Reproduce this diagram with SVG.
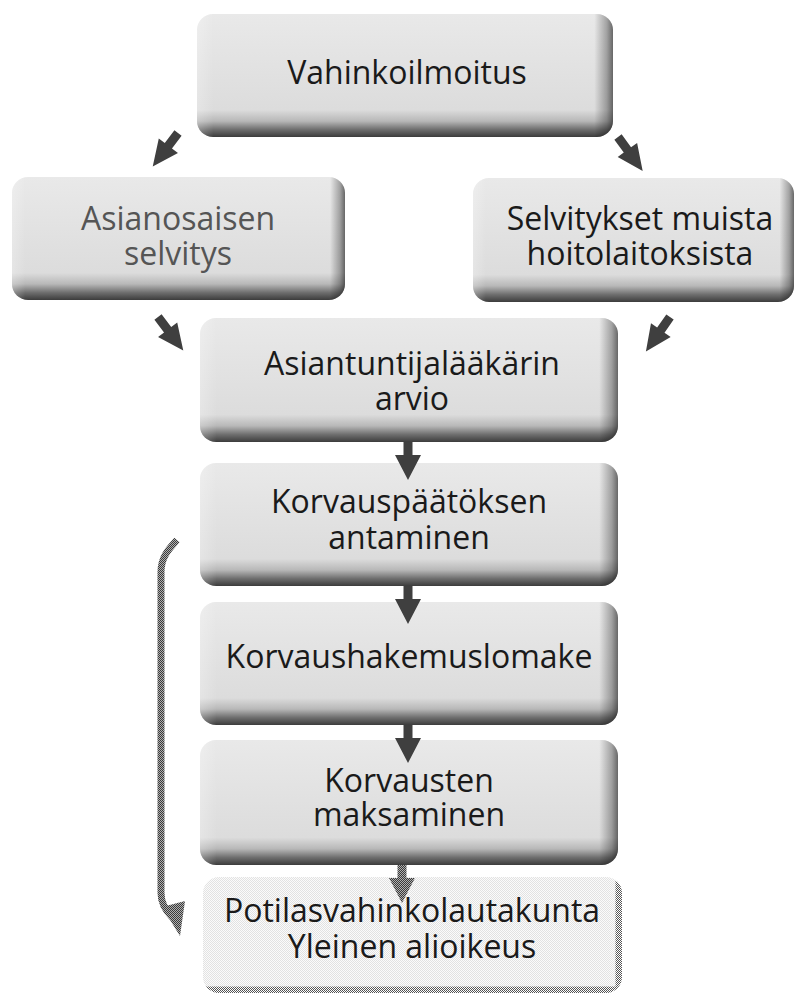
<svg xmlns="http://www.w3.org/2000/svg" width="795" height="996" viewBox="0 0 795 996">
<defs>
<linearGradient id="gv" x1="0" y1="0" x2="0" y2="1">
<stop offset="0" stop-color="#e9e9e9"/>
<stop offset="0.78" stop-color="#dcdcdc"/>
<stop offset="0.87" stop-color="#b8b8b8"/>
<stop offset="0.94" stop-color="#6e6e6e"/>
<stop offset="1" stop-color="#3c3c3c"/>
</linearGradient>
<linearGradient id="gh" x1="0" y1="0" x2="1" y2="0">
<stop offset="0" stop-color="#ffffff" stop-opacity="0.25"/>
<stop offset="0.04" stop-color="#ffffff" stop-opacity="0"/>
<stop offset="0.955" stop-color="#000000" stop-opacity="0"/>
<stop offset="0.985" stop-color="#000000" stop-opacity="0.3"/>
<stop offset="1" stop-color="#000000" stop-opacity="0.55"/>
</linearGradient>
<pattern id="dd" width="2" height="2" patternUnits="userSpaceOnUse">
<rect width="2" height="2" fill="#b0b0b0"/>
<rect width="1" height="1" fill="#3a3a3a"/>
<rect x="1" y="1" width="1" height="1" fill="#3a3a3a"/>
</pattern>
<pattern id="dm" width="2" height="2" patternUnits="userSpaceOnUse">
<rect width="2" height="2" fill="#ffffff"/>
<rect width="1" height="1" fill="#555555"/>
<rect x="1" y="1" width="1" height="1" fill="#555555"/>
</pattern>
<pattern id="dl" width="2" height="2" patternUnits="userSpaceOnUse">
<rect width="2" height="2" fill="#fbfbfb"/>
<rect width="1" height="1" fill="#e2e2e2"/>
<rect x="1" y="1" width="1" height="1" fill="#e2e2e2"/>
</pattern>
<clipPath id="cb"><rect x="203" y="877" width="419" height="116" rx="16"/></clipPath>
<path id="arr" d="M-4.5,0 L4.5,0 L4.5,16 L12,16 L0,42 L-12,16 L-4.5,16 Z"/>
<path id="varr" d="M-4.5,0 L4.5,0 L4.5,13 L13,13 L0,38 L-13,13 L-4.5,13 Z"/>
</defs>
<style>
.box{fill:url(#gv)}
.hl{fill:url(#gh)}
.t{font-family:"Open Sans","Noto Sans","Liberation Sans",sans-serif;font-size:32px;fill:#1a1a1a;text-anchor:middle}
.g{fill:#555555}
.a{fill:#3f3f3f}
</style>
<rect width="795" height="996" fill="#ffffff"/>

<g id="n1">
<rect class="box" x="197" y="14" width="416" height="123" rx="16"/>
<rect class="hl" x="197" y="14" width="416" height="123" rx="16"/>
<text class="t" x="407" y="84">Vahinkoilmoitus</text>
</g>
<g id="n2">
<rect class="box" x="12" y="177" width="333" height="123" rx="16"/>
<rect class="hl" x="12" y="177" width="333" height="123" rx="16"/>
<text class="t g"><tspan x="178" y="230">Asianosaisen</tspan><tspan x="178" y="265">selvitys</tspan></text>
</g>
<g id="n3">
<rect class="box" x="473" y="178" width="321" height="124" rx="16"/>
<rect class="hl" x="473" y="178" width="321" height="124" rx="16"/>
<text class="t"><tspan x="640" y="230">Selvitykset muista</tspan><tspan x="640" y="265">hoitolaitoksista</tspan></text>
</g>
<g id="n4">
<rect class="box" x="200" y="318" width="418" height="124" rx="16"/>
<rect class="hl" x="200" y="318" width="418" height="124" rx="16"/>
<text class="t"><tspan x="412" y="375">Asiantuntijalääkärin</tspan><tspan x="412" y="410">arvio</tspan></text>
</g>
<g id="n5">
<rect class="box" x="200" y="463" width="418" height="123" rx="16"/>
<rect class="hl" x="200" y="463" width="418" height="123" rx="16"/>
<text class="t"><tspan x="409" y="513">Korvauspäätöksen</tspan><tspan x="409" y="549">antaminen</tspan></text>
</g>
<g id="n6">
<rect class="box" x="200" y="602" width="418" height="123" rx="16"/>
<rect class="hl" x="200" y="602" width="418" height="123" rx="16"/>
<text class="t" x="409" y="668">Korvaushakemuslomake</text>
</g>
<g id="n7">
<rect class="box" x="200" y="740" width="418" height="125" rx="16"/>
<rect class="hl" x="200" y="740" width="418" height="125" rx="16"/>
<text class="t"><tspan x="409" y="792">Korvausten</tspan><tspan x="409" y="826">maksaminen</tspan></text>
</g>
<g id="n8">
<rect x="203" y="877" width="419" height="116" rx="16" fill="url(#dl)"/>
<g clip-path="url(#cb)">
<path d="M203,990 L619,990 L619,877" fill="none" stroke="url(#dm)" stroke-width="7"/>
</g>
<text class="t"><tspan x="412" y="922">Potilasvahinkolautakunta</tspan><tspan x="412" y="958">Yleinen alioikeus</tspan></text>
</g>

<g id="connectors">
<use href="#arr" class="a" transform="translate(178,133) rotate(37)"/>
<use href="#arr" class="a" transform="translate(618,137) rotate(-36)"/>
<use href="#arr" class="a" transform="translate(158,317) rotate(-37)"/>
<use href="#arr" class="a" transform="translate(670,317) rotate(35)"/>
<use href="#varr" class="a" transform="translate(408,442)"/>
<use href="#varr" class="a" transform="translate(408,586)"/>
<use href="#varr" class="a" transform="translate(408,725)"/>
<use href="#varr" fill="url(#dd)" transform="translate(402,865)"/>
<path d="M177,540 C170,548 161,556 161,572 L161,893 C161,905 167,912 172,917" fill="none" stroke="url(#dd)" stroke-width="7"/>
<path d="M162,907 L185,901 L180,936 Z" fill="url(#dd)"/>
</g>
</svg>
